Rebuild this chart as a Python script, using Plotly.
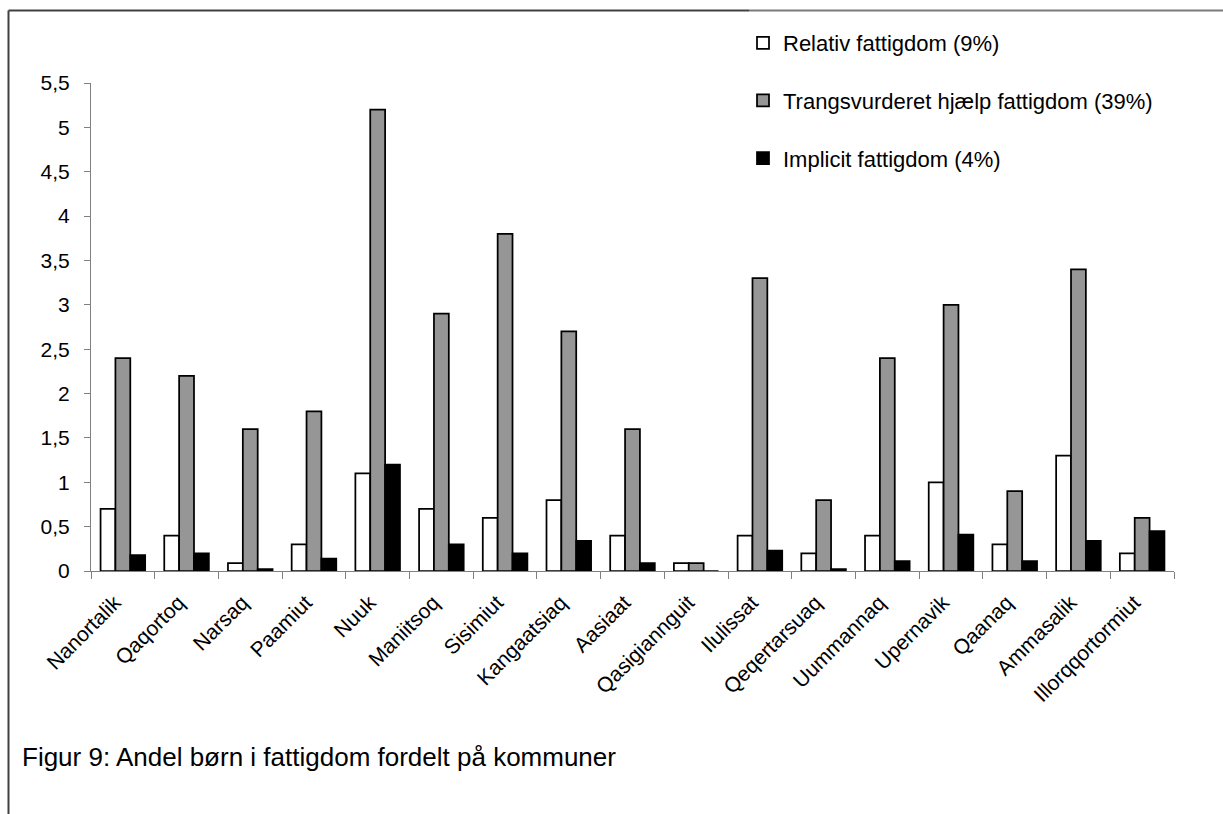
import plotly.graph_objects as go

municipalities = ["Nanortalik", "Qaqortoq", "Narsaq", "Paamiut", "Nuuk", "Maniitsoq",
                  "Sisimiut", "Kangaatsiaq", "Aasiaat", "Qasigiannguit", "Ilulissat",
                  "Qeqertarsuaq", "Uummannaq", "Upernavik", "Qaanaq", "Ammasalik",
                  "Illorqqortormiut"]
relativ = [0.7, 0.4, 0.09, 0.3, 1.1, 0.7, 0.6, 0.8, 0.4, 0.09, 0.4, 0.2, 0.4, 1.0, 0.3, 1.3, 0.2]
trangsvurderet = [2.4, 2.2, 1.6, 1.8, 5.2, 2.9, 3.8, 2.7, 1.6, 0.09, 3.3, 0.8, 2.4, 3.0, 0.9, 3.4, 0.6]
implicit = [0.18, 0.2, 0.02, 0.14, 1.2, 0.3, 0.2, 0.34, 0.09, 0.0, 0.23, 0.02, 0.11, 0.41, 0.11, 0.34, 0.45]
series_names = ["Relativ fattigdom (9%)", "Trangsvurderet hjælp fattigdom (39%)", "Implicit fattigdom (4%)"]
series_colors = ["#ffffff", "#969696", "#000000"]
caption = "Figur 9: Andel børn i fattigdom fordelt på kommuner"
y_ticks = [0, 0.5, 1, 1.5, 2, 2.5, 3, 3.5, 4, 4.5, 5, 5.5]

W, H = 1223, 814
L, R, T, B = 91, 1174, 83, 571
pw, ph = R - L, B - T

def px_x(x):
    return (x - L) / pw

def px_y(y):
    return (B - y) / ph

FONT = "Liberation Sans, Arial, sans-serif"

fig = go.Figure()
for i, (name, vals, col) in enumerate(zip(series_names, [relativ, trangsvurderet, implicit], series_colors)):
    fig.add_trace(go.Bar(
        x=municipalities, y=vals, name=name, legendgroup=f"g{i}",
        marker=dict(color=col, line=dict(color="#000000", width=1.75)),
    ))

fig.update_layout(
    width=W, height=H,
    margin=dict(l=L, r=W - R, t=T, b=H - B, autoexpand=False),
    paper_bgcolor="white", plot_bgcolor="white",
    barmode="group", bargap=0.3, bargroupgap=0,
    separators=",.",
    font=dict(family=FONT, size=21, color="#000000"),
    showlegend=True,
    legend=dict(
        xref="container", yref="container",
        x=743 / W, y=1 - 22 / H, xanchor="left", yanchor="top",
        bgcolor="rgba(0,0,0,0)", borderwidth=0,
        font=dict(family=FONT, size=22, color="#000000"),
        tracegroupgap=26, itemclick=False,
    ),
    xaxis=dict(
        type="category", showgrid=False, zeroline=False,
        showline=True, linecolor="#808080", linewidth=1,
        ticks="outside", tickson="boundaries", ticklen=7, tickcolor="#808080",
        tickangle=-45, tickfont=dict(family=FONT, size=21, color="#000000"),
        ticklabelstandoff=10, ticklabelshift=-8,
        range=[-0.5, len(municipalities) - 0.5],
    ),
    yaxis=dict(
        range=[0, 5.5], tickvals=y_ticks, showgrid=False, zeroline=False,
        showline=True, linecolor="#808080", linewidth=1,
        ticks="outside", ticklen=6, tickcolor="#808080",
        tickfont=dict(family=FONT, size=21, color="#000000"),
        ticklabelstandoff=10,
    ),
)

# outer frame (top and left edges)
fig.add_shape(type="line", xref="paper", yref="paper",
              x0=px_x(8.5), x1=px_x(749), y0=px_y(10.5), y1=px_y(10.5),
              line=dict(color="#404040", width=2))
fig.add_shape(type="line", xref="paper", yref="paper",
              x0=px_x(749), x1=px_x(W + 2), y0=px_y(10.5), y1=px_y(10.5),
              line=dict(color="#7a7a7a", width=2))
fig.add_shape(type="line", xref="paper", yref="paper",
              x0=px_x(8.5), x1=px_x(8.5), y0=px_y(10.5), y1=px_y(H + 2),
              line=dict(color="#404040", width=2))

fig.add_annotation(text=caption, xref="paper", yref="paper",
                   x=px_x(20), y=px_y(757), xanchor="left", yanchor="middle",
                   showarrow=False, font=dict(family=FONT, size=26, color="#000000"))

fig.write_html("out.html", config={"displayModeBar": False},
               post_script="document.body.style.margin='0px';document.body.style.overflow='hidden';")
